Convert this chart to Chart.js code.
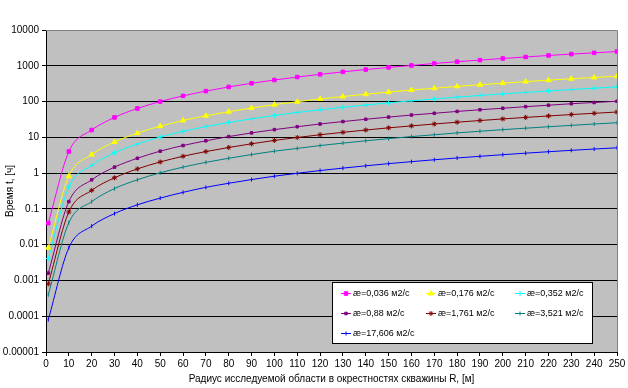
<!DOCTYPE html>
<html>
<head>
<meta charset="utf-8">
<script src="https://cdn.jsdelivr.net/npm/chart.js@4.4.1/dist/chart.umd.min.js"></script>
<style>
  html, body { margin: 0; padding: 0; background: #fff; }
  #wrap { width: 628px; height: 388px; }
</style>
</head>
<body>
<div id="wrap"><canvas id="timeChart" width="628" height="388"></canvas></div>
<script>
// радиус, м
const radius = [1, 10, 20, 30, 40, 50, 60, 70, 80, 90, 100, 110, 120, 130, 140, 150, 160, 170, 180, 190, 200, 210, 220, 230, 240, 250];

// время, ч
const t0036 = [0.04, 4, 16, 36, 64, 100, 144, 196, 256, 324, 400, 484, 576, 676, 784, 900, 1020, 1160, 1300, 1440, 1600, 1760, 1940, 2120, 2300, 2500];
const t0176 = [0.0082, 0.82, 3.3, 7.4, 13.1, 20.5, 29.5, 40, 52, 66, 82, 99, 118, 138, 160, 184, 209, 236, 265, 295, 327, 361, 396, 433, 471, 511];
const t0352 = [0.0041, 0.41, 1.64, 3.7, 6.5, 10.2, 14.7, 20, 26, 33, 41, 49.5, 59, 69, 80, 92, 105, 118, 133, 148, 164, 180, 198, 216, 236, 256];
const t088 = [0.0016, 0.16, 0.65, 1.47, 2.6, 4.1, 5.9, 8, 10.5, 13.3, 16.4, 19.8, 23.6, 27.6, 32, 36.8, 42, 47, 53, 59, 65, 72, 79, 87, 94, 102];
const t1761 = [0.0008, 0.082, 0.33, 0.74, 1.31, 2.05, 2.95, 4, 5.2, 6.6, 8.2, 9.9, 11.8, 13.8, 16, 18.4, 20.9, 23.6, 26.5, 29.5, 32.7, 36, 39.6, 43.3, 47, 51];
const t3521 = [0.0004, 0.041, 0.16, 0.37, 0.65, 1.02, 1.47, 2, 2.6, 3.3, 4.1, 4.9, 5.9, 6.9, 8, 9.2, 10.5, 11.8, 13.3, 14.8, 16.4, 18, 19.8, 21.6, 23.6, 25.6];
const t17606 = [0.00008, 0.0082, 0.033, 0.074, 0.13, 0.2, 0.29, 0.4, 0.52, 0.66, 0.82, 0.99, 1.18, 1.38, 1.6, 1.84, 2.09, 2.36, 2.65, 2.95, 3.27, 3.61, 3.96, 4.33, 4.71, 5.1];

const seriesLabels = ["æ=0,036 м2/с", "æ=0,176 м2/с", "æ=0,352 м2/с", "æ=0,88 м2/с", "æ=1,761 м2/с", "æ=3,521 м2/с", "æ=17,606 м2/с"];
const yTicks = [0.00001, 0.0001, 0.001, 0.01, 0.1, 1, 10, 100, 1000, 10000];
const yTickLabels = ["0.00001", "0.0001", "0.001", "0.01", "0.1", "1", "10", "100", "1000", "10000"];
const xTicks = [0, 10, 20, 30, 40, 50, 60, 70, 80, 90, 100, 110, 120, 130, 140, 150, 160, 170, 180, 190, 200, 210, 220, 230, 240, 250];

const FONT = "'Liberation Sans', Arial, sans-serif";

function pts(vals) {
    return radius.map((r, i) => ({ x: r, y: vals[i] }));
}
function series(label, vals, color, style, rad, rot) {
    return {
        label: label,
        data: pts(vals),
        borderColor: color,
        backgroundColor: color,
        borderWidth: 1,
        pointStyle: style,
        pointRadius: rad,
        pointRotation: rot || 0,
        pointBorderWidth: 1,
        pointBorderColor: color,
        cubicInterpolationMode: "monotone",
    };
}

const datasets = [
    series(seriesLabels[0], t0036, "#FF00FF", "rect", 2.5),
    series(seriesLabels[1], t0176, "#FFFF00", "triangle", 3),
    series(seriesLabels[2], t0352, "#00FFFF", "cross", 2.5),
    series(seriesLabels[3], t088, "#800080", "rect", 1.8),
    series(seriesLabels[4], t1761, "#800000", "star", 2.5),
    series(seriesLabels[5], t3521, "#008080", "line", 2, 90),
    series(seriesLabels[6], t17606, "#0000FF", "line", 2, 90),
];

// серый фон области построения + рамка
const plotBg = {
    id: "plotBg",
    beforeDraw(chart) {
        const { ctx, chartArea: { left, top, right, bottom } } = chart;
        ctx.save();
        ctx.fillStyle = "#C0C0C0";
        ctx.fillRect(left, top, right - left, bottom - top);
        ctx.restore();
    },
    afterDatasetsDraw(chart) {
        const { ctx, chartArea: { left, top, right, bottom } } = chart;
        ctx.save();
        ctx.strokeStyle = "#808080";
        ctx.lineWidth = 1;
        ctx.beginPath();
        ctx.moveTo(left, top + 0.5);
        ctx.lineTo(right + 0.5, top + 0.5);
        ctx.lineTo(right + 0.5, bottom);
        ctx.stroke();
        ctx.restore();
    },
};

// легенда в рамке, 3 колонки
const boxLegend = {
    id: "boxLegend",
    afterDraw(chart) {
        const ctx = chart.ctx;
        const bx = 332, by = 282, bw = 260, bh = 61;
        ctx.save();
        ctx.fillStyle = "#fff";
        ctx.fillRect(bx, by, bw, bh);
        ctx.strokeStyle = "#000";
        ctx.lineWidth = 1;
        ctx.strokeRect(bx + 0.5, by + 0.5, bw, bh);
        const colX = [341, 426, 515];
        const rowY = [293, 313, 333];
        ctx.font = "9px " + FONT;
        ctx.textBaseline = "middle";
        chart.data.datasets.forEach((ds, i) => {
            const x = colX[i % 3], y = rowY[Math.floor(i / 3)];
            ctx.strokeStyle = ds.borderColor;
            ctx.fillStyle = ds.borderColor;
            ctx.lineWidth = 1;
            ctx.beginPath();
            ctx.moveTo(x, y + 0.5);
            ctx.lineTo(x + 10, y + 0.5);
            ctx.stroke();
            Chart.helpers.drawPoint(ctx, {
                pointStyle: ds.pointStyle,
                radius: ds.pointRadius,
                rotation: ds.pointRotation,
                borderWidth: 1,
            }, x + 5, y + 0.5);
            ctx.fillStyle = "#000";
            ctx.fillText(ds.label, x + 12, y + 1);
        });
        ctx.restore();
    },
};

const config = {
    type: "line",
    data: { datasets: datasets },
    options: {
        responsive: false,
        animation: false,
        layout: { padding: { top: 30, right: 11, bottom: 0, left: 0 } },
        plugins: {
            legend: { display: false },
            tooltip: { enabled: false },
        },
        scales: {
            x: {
                type: "linear",
                min: 0,
                max: 250,
                afterBuildTicks(scale) {
                    scale.ticks = xTicks.map((v) => ({ value: v }));
                },
                afterFit(scale) {
                    scale.height = 36;
                },
                grid: {
                    drawOnChartArea: false,
                    drawTicks: true,
                    tickLength: 4,
                    color: "#000",
                },
                border: { color: "#000", width: 1 },
                ticks: {
                    color: "#000",
                    font: { family: FONT, size: 10 },
                    padding: 2,
                    maxRotation: 0,
                    autoSkip: false,
                },
                title: {
                    display: true,
                    text: "Радиус исследуемой области в окрестностях скважины R, [м]",
                    color: "#000",
                    font: { family: FONT, size: 10 },
                    padding: { top: 0, bottom: 3 },
                },
            },
            y: {
                type: "logarithmic",
                min: 0.00001,
                max: 10000,
                afterBuildTicks(scale) {
                    scale.ticks = yTicks.map((v) => ({ value: v }));
                },
                afterFit(scale) {
                    scale.width = 46;
                },
                grid: {
                    color: (c) => (c.tick && c.tick.value === 10000 ? "#808080" : "#000"),
                    tickColor: "#000",
                    lineWidth: 1,
                    drawTicks: true,
                    tickLength: 4,
                },
                border: { color: "#000", width: 1 },
                ticks: {
                    color: "#000",
                    font: { family: FONT, size: 10 },
                    padding: 3,
                    autoSkip: false,
                    callback: (v) => {
                        const i = yTicks.indexOf(v);
                        return i >= 0 ? yTickLabels[i] : "";
                    },
                },
                title: {
                    display: true,
                    text: "Время t, [ч]",
                    color: "#000",
                    font: { family: FONT, size: 10 },
                    padding: { top: 4, bottom: 0 },
                },
            },
        },
    },
    plugins: [plotBg, boxLegend],
};

var ctx = document.getElementById("timeChart").getContext("2d");
var timeChart = new Chart(ctx, config);
</script>
</body>
</html>
